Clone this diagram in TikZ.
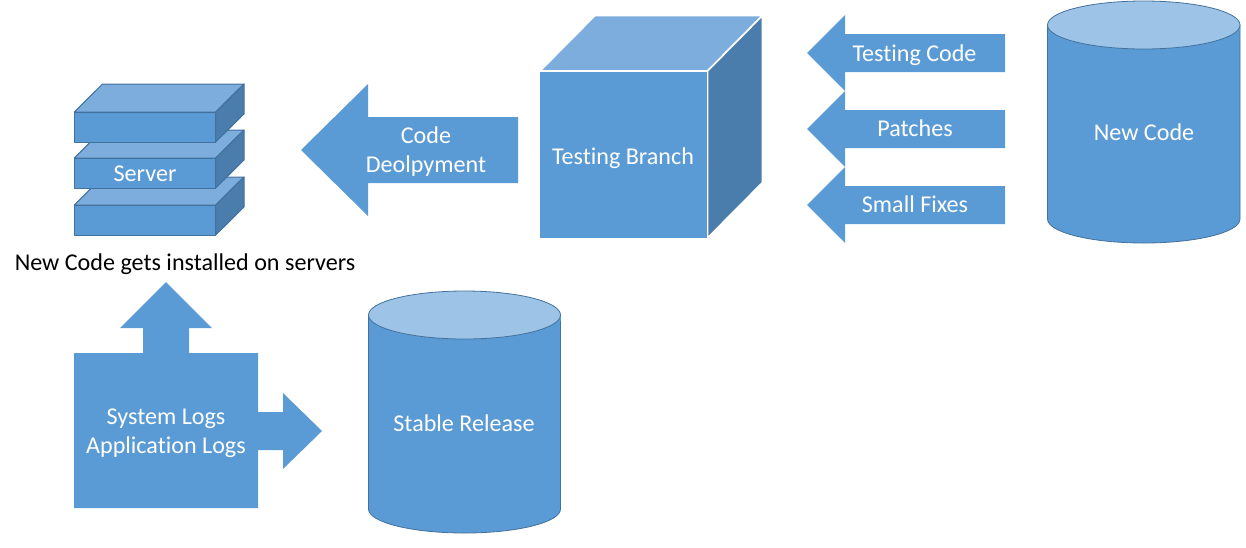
\documentclass[tikz,border=0pt]{standalone}
\usepackage{fontspec}
\setmainfont[Ligatures=NoCommon]{Carlito}
\definecolor{bluemain}{HTML}{5B9BD5}
\definecolor{bluetop}{HTML}{7CADDD}
\definecolor{blueside}{HTML}{4A7DAB}
\definecolor{blueell}{HTML}{9DC3E6}
\definecolor{blueedge}{HTML}{41719C}
\tikzset{
  lbl/.style={text=white,font=\fontsize{24.1}{29}\selectfont,align=center,inner sep=0pt},
  blk/.style={text=black,font=\fontsize{24.1}{29}\selectfont,align=center,inner sep=0pt},
  cyl/.style={fill=bluemain,draw=blueedge,line width=0.8pt},
  cylcap/.style={fill=blueell,draw=blueedge,line width=0.8pt},
  slabfront/.style={fill=bluemain,draw=blueedge,line width=1pt,line join=round},
  slabtop/.style={fill=bluetop,draw=blueedge,line width=1pt,line join=round},
  slabside/.style={fill=blueside,draw=blueedge,line width=1pt,line join=round},
  cubefront/.style={fill=bluemain,draw=white,line width=1.6pt,line join=round},
  cubetop/.style={fill=bluetop,draw=white,line width=1.6pt,line join=round},
  cubeside/.style={fill=blueside,draw=white,line width=1.6pt,line join=round},
}
\newcommand{\myslab}[1]{%
  \draw[slabtop] (74.3,#1) -- (102.5,#1-28) -- (244,#1-28) -- (215.7,#1) -- cycle;
  \draw[slabside] (215.7,#1) -- (244,#1-28) -- (244,#1+2) -- (215.7,#1+30) -- cycle;
  \draw[slabfront] (74.3,#1) rectangle (215.7,#1+30);
}
\newcommand{\mysmallarrow}[1]{%
  \fill[bluemain] (807,#1) -- (845,#1-38) -- (845,#1-19) -- (1005,#1-19) -- (1005,#1+19) -- (845,#1+19) -- (845,#1+38) -- cycle;
}
\newcommand{\mycyl}[4]{% left, right, top, bottom
  \pgfmathsetmacro{\mx}{(#1+#2)/2}
  \pgfmathsetmacro{\rx}{(#2-#1)/2}
  \draw[cyl] (#1,#3+24) -- (#1,#4-24) arc[start angle=180,end angle=360,x radius=\rx,y radius=-24] -- (#2,#3+24);
  \fill[bluemain] (#1,#3+24) rectangle (#2,#3+30);
  \draw[cylcap] (\mx,#3+24) ellipse[x radius=\rx,y radius=24];
}
\begin{document}
\begin{tikzpicture}[x=1pt,y=-1pt]
\useasboundingbox (0,0) rectangle (1246,547);
% server stack
\myslab{205}
\myslab{158}
\myslab{112}
\node[lbl] (server) at (145,174) {Server};
\node[blk] (caption) at (185,264) {New Code gets installed on servers};
% code deployment arrow
\fill[bluemain] (301,150) -- (368,84) -- (368,117) -- (518,117) -- (518,183) -- (368,183) -- (368,216) -- cycle;
\node[lbl] (deploy) at (426,152) {Code\\Deolpyment};
% cube
\draw[cubetop] (540,71) -- (595,15.5) -- (762.5,15.5) -- (707.5,71) -- cycle;
\draw[cubeside] (707.5,71) -- (762.5,15.5) -- (762.5,182.5) -- (707.5,238) -- cycle;
\draw[cubefront] (539.5,71) rectangle (707.5,238.5);
\node[lbl] (testing) at (623,158) {Testing Branch};
% small arrows
\mysmallarrow{53}
\mysmallarrow{129}
\mysmallarrow{205}
\node[lbl] (tcode) at (914.5,55) {Testing Code};
\node[lbl] (patches) at (915,128) {Patches};
\node[lbl] (fixes) at (915,204) {Small Fixes};
% cylinders
\mycyl{1047.5}{1240}{1}{243}
\node[lbl] (newcode) at (1144,132) {New Code};
\mycyl{368.5}{560.5}{291}{533}
\node[lbl] (stable) at (464,423) {Stable Release};
% logs
\fill[bluemain] (74,353) -- (143,353) -- (143,328) -- (120,328) -- (166,282) -- (212,328) -- (189,328) -- (189,353) -- (258,353) -- (258,412) -- (283,412) -- (283,393) -- (322,431) -- (283,469) -- (283,450) -- (258,450) -- (258,508) -- (74,508) -- cycle;
\node[lbl] (logs) at (166,433.5) {System Logs\\Application Logs};
\end{tikzpicture}
\end{document}
